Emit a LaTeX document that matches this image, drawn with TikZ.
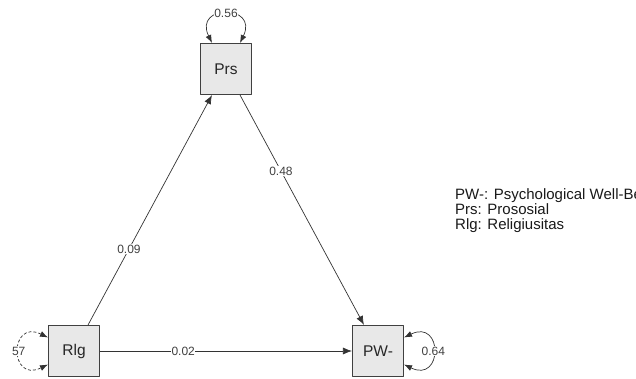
\documentclass[tikz,border=0pt]{standalone}
\usepackage{fontspec}
\setmainfont{Liberation Sans}
\usetikzlibrary{arrows.meta}
\begin{document}
\begin{tikzpicture}[x=1pt,y=-1pt,line join=round,
    manifest/.style={draw=black!75,fill=black!9,line width=1.1pt,minimum size=51pt,inner sep=0pt,font=\fontsize{15.5}{16}\selectfont,text=black!85},
    regr/.style={draw=black!80,line width=.7pt,-{Latex[length=9pt,width=7pt]}},
    resid/.style={draw=black!80,line width=.7pt,{Latex[length=8pt,width=6pt]}-{Latex[length=8pt,width=6pt]}},
    coef/.style={fill=white,inner sep=.6pt,font=\fontsize{12}{12}\selectfont,text=black!75},
    legend/.style={anchor=base west,inner sep=0pt,font=\fontsize{15}{15}\selectfont,text=black!90}]
    \clip(0,0)rectangle(636,379);
    \node[manifest](prs)at(226,69){Prs};
    \node[manifest](rlg)at(74,351){Rlg};
    \node[manifest](pw)at(378,351){PW-};
    \draw[regr](rlg)--(prs)node[coef,pos=.33]{0.09};
    \draw[regr](prs)--(pw)node[coef,pos=.33]{0.48};
    \draw[regr](rlg)--(pw)node[coef,pos=.33]{0.02};
    % residual variances
    \draw[resid]([xshift=-14pt]prs.north)..controls +(-19,-39) and +(19,-39)..([xshift=14pt]prs.north)node[coef,pos=.5]{0.56};
    \draw[resid,dash pattern=on 3pt off 2pt]([yshift=13.5pt]rlg.west)..controls +(-39,-19) and +(-39,19)..([yshift=-13.5pt]rlg.west)node[coef,pos=.5]{57};
    \draw[resid]([yshift=13.5pt]pw.east)..controls +(39,-19) and +(39,19)..([yshift=-13.5pt]pw.east)node[coef,pos=.5]{0.64};
    \node[legend](lpw)at(455,199.5){PW-: Psychological Well-Be};
    \node[legend](lprs)at(455,214.5){Prs: Prososial};
    \node[legend](lrlg)at(455,229.5){Rlg: Religiusitas};
\end{tikzpicture}
\end{document}
